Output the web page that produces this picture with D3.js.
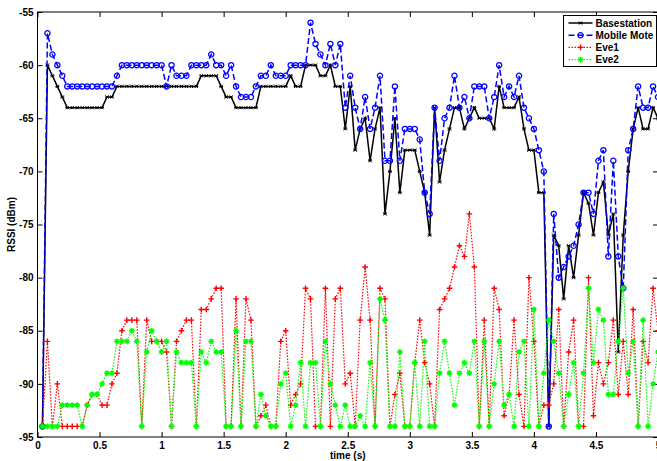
<!DOCTYPE html>
<html>
<head>
<meta charset="utf-8">
<script src="https://cdn.jsdelivr.net/npm/d3@7"></script>
<style>
  body { margin: 0; background: #fff; }
  text { font-family: "Liberation Sans", Arial, sans-serif; font-weight: bold; }
</style>
</head>
<body>
<div class="chartwrap"></div>
<script>
var width = 657, height = 461;
var margin = {top: 12, left: 37.5, right: 658, bottom: 437};

// sample spacing (s), samples start at one step
var sampleStep = 0.04;

var seriesNames = ["Basestation", "Mobile Mote", "Eve1", "Eve2"];

var basestation = [
  -94,-60,-61,-62,-63,-64,-64,-64,-64,-64,
  -64,-64,-64,-63,-63,-62,-62,-62,-62,-62,
  -62,-62,-62,-62,-62,-62,-62,-62,-62,-62,
  -62,-62,-61,-61,-61,-61,-62,-63,-63,-64,
  -64,-64,-64,-64,-62,-62,-62,-62,-62,-62,
  -61,-62,-62,-60,-60,-60,-61,-61,-60,-62,
  -62,-66,-62,-68,-66,-65,-69,-66,-64,-74,
  -70,-65,-72,-68,-68,-68,-70,-72,-76,-64,
  -71,-68,-66,-64,-64,-66,-65,-64,-65,-65,
  -65,-66,-62,-64,-64,-64,-63,-66,-68,-68,
  -72,-72,-94,-76,-77,-82,-77,-80,-76,-72,
  -73,-76,-72,-71,-76,-74,-87,-76,-70,-66,
  -64,-66,-66,-64,-65];

var mobileMote = [
  -94,-57,-59,-60,-61,-62,-62,-62,-62,-62,
  -62,-62,-62,-62,-62,-61,-60,-60,-60,-60,
  -60,-60,-60,-60,-60,-62,-60,-61,-61,-61,
  -60,-60,-60,-60,-59,-60,-60,-61,-60,-62,
  -63,-63,-63,-62,-61,-61,-60,-61,-61,-61,
  -60,-60,-60,-60,-56,-58,-59,-60,-58,-60,
  -58,-64,-61,-64,-66,-63,-66,-64,-61,-69,
  -69,-62,-69,-66,-66,-66,-67,-72,-74,-64,
  -69,-65,-64,-61,-64,-63,-65,-62,-62,-62,
  -65,-63,-60,-63,-62,-63,-61,-64,-65,-66,
  -68,-70,-94,-74,-80,-79,-78,-77,-75,-72,
  -72,-74,-69,-68,-78,-69,-78,-81,-68,-66,
  -62,-64,-64,-62,-63];

var eve1 = [
  -94,-86,-94,-90,-94,-94,-94,-94,-94,-92,
  -91,-91,-92,-92,-90,-89,-85,-84,-84,-84,
  -94,-84,-86,-86,-86,-87,-94,-86,-85,-84,
  -84,-94,-83,-83,-82,-81,-81,-94,-94,-82,
  -94,-82,-84,-94,-93,-92,-94,-94,-86,-85,
  -92,-91,-90,-81,-82,-94,-94,-81,-94,-82,
  -81,-90,-89,-94,-84,-79,-84,-94,-81,-82,
  -94,-91,-89,-94,-94,-88,-84,-88,-90,-94,
  -83,-82,-81,-79,-77,-78,-74,-79,-94,-84,
  -94,-81,-83,-93,-91,-84,-91,-94,-80,-86,
  -94,-92,-92,-90,-83,-94,-87,-84,-94,-94,
  -80,-93,-88,-90,-88,-84,-91,-86,-91,-83,
  -94,-86,-88,-81,-85];

var eve2 = [
  -94,-94,-94,-94,-92,-92,-92,-92,-94,-92,
  -91,-91,-90,-89,-89,-86,-86,-86,-85,-86,
  -94,-87,-85,-86,-87,-86,-94,-87,-88,-88,
  -88,-94,-87,-88,-86,-87,-87,-94,-94,-85,
  -94,-86,-86,-94,-91,-93,-94,-94,-90,-89,
  -94,-92,-88,-94,-88,-88,-94,-86,-90,-92,
  -94,-92,-94,-94,-93,-94,-88,-94,-82,-84,
  -94,-94,-87,-94,-94,-88,-94,-86,-94,-94,
  -89,-86,-89,-92,-89,-88,-89,-86,-94,-86,
  -94,-90,-86,-92,-91,-94,-87,-86,-94,-83,
  -94,-89,-84,-86,-89,-94,-91,-88,-94,-89,
  -81,-88,-83,-84,-91,-91,-86,-81,-89,-86,
  -94,-84,-94,-90,-87];

var xTicks = [0, 0.5, 1, 1.5, 2, 2.5, 3, 3.5, 4, 4.5, 5];
var yTicks = [-95, -90, -85, -80, -75, -70, -65, -60, -55];

var svg = d3.select(".chartwrap").append("svg")
    .attr("width", width)
    .attr("height", height);

svg.append("rect")
    .attr("width", width)
    .attr("height", height)
    .attr("fill", "#fff");

var x = d3.scaleLinear().domain([0, 5]).range([margin.left, margin.right]);
var y = d3.scaleLinear().domain([-95, -55]).range([margin.bottom, margin.top]);

function toPoints(vals) {
    return vals.map(function(v, i) { return {t: (i + 1) * sampleStep, v: v}; });
}

// axes, matlab style: ticks inside on all four sides
function styleAxis(g) {
    g.select(".domain").remove();
    g.selectAll(".tick line").attr("stroke", "#000").attr("stroke-width", 1);
    g.selectAll(".tick text").attr("fill", "#000").style("font-size", "10px");
}

svg.append("g")
    .attr("transform", "translate(0," + margin.bottom + ")")
    .call(d3.axisBottom(x).tickValues(xTicks).tickSizeInner(-5).tickSizeOuter(0).tickPadding(5)
        .tickFormat(d3.format("")))
    .call(styleAxis);

svg.append("g")
    .attr("transform", "translate(0," + margin.top + ")")
    .call(d3.axisTop(x).tickValues(xTicks).tickSizeInner(-5).tickSizeOuter(0).tickFormat(""))
    .call(styleAxis);

svg.append("g")
    .attr("transform", "translate(" + margin.left + ",0)")
    .call(d3.axisLeft(y).tickValues(yTicks).tickSizeInner(-5).tickSizeOuter(0).tickPadding(4))
    .call(styleAxis);

svg.append("g")
    .attr("transform", "translate(" + margin.right + ",0)")
    .call(d3.axisRight(y).tickValues(yTicks).tickSizeInner(-5).tickSizeOuter(0).tickFormat(""))
    .call(styleAxis);

svg.selectAll("text").filter(function() { return this.textContent.charAt(0) == "\u2212"; })
    .text(function() { return "-" + this.textContent.slice(1); });

svg.append("rect")
    .attr("x", margin.left)
    .attr("y", margin.top)
    .attr("width", margin.right - margin.left)
    .attr("height", margin.bottom - margin.top)
    .attr("fill", "none")
    .attr("stroke", "#000")
    .attr("stroke-width", 1);

var line = d3.line()
    .x(function(d) { return x(d.t); })
    .y(function(d) { return y(d.v); });

var styles = [
    {data: basestation, color: "#000000", dash: null, width: 1.5, marker: "x"},
    {data: mobileMote, color: "#0000ff", dash: "6,3", width: 1.5, marker: "o"},
    {data: eve1, color: "#ff0000", dash: "1.5,1.5", width: 1.2, marker: "+"},
    {data: eve2, color: "#00ff00", dash: "1.5,1.5", width: 1.2, marker: "*"}
];

function drawMarker(g, m, color) {
    if (m == "o") {
        g.append("circle").attr("r", 2.6).attr("fill", "none")
            .attr("stroke", color).attr("stroke-width", 1.3);
    } else if (m == "+") {
        g.append("path").attr("d", "M-2.8,0H2.8M0,-2.8V2.8")
            .attr("stroke", color).attr("stroke-width", 1.4);
    } else if (m == "x") {
        g.append("path").attr("d", "M-1.6,-1.6L1.6,1.6M-1.6,1.6L1.6,-1.6M-2,0H2")
            .attr("stroke", color).attr("stroke-width", 1);
    } else {
        g.append("circle").attr("r", 2.4).attr("fill", color);
        g.append("path").attr("d", "M-3,0H3M0,-3V3M-2.1,-2.1L2.1,2.1M-2.1,2.1L2.1,-2.1")
            .attr("stroke", color).attr("stroke-width", 1);
    }
}

var plotg = svg.append("g");

styles.forEach(function(s) {
    var pts = toPoints(s.data);
    plotg.append("path")
        .datum(pts)
        .attr("fill", "none")
        .attr("stroke", s.color)
        .attr("stroke-width", s.width)
        .attr("stroke-dasharray", s.dash)
        .attr("d", line);
    plotg.selectAll(null)
        .data(pts)
        .enter().append("g")
        .attr("transform", function(d) { return "translate(" + x(d.t) + "," + y(d.v) + ")"; })
        .each(function() { drawMarker(d3.select(this), s.marker, s.color); });
});

// labels
svg.append("text")
    .attr("x", (margin.left + margin.right) / 2)
    .attr("y", 459)
    .style("text-anchor", "middle")
    .style("font-size", "10px")
    .text("time (s)");

svg.append("text")
    .attr("transform", "translate(14.5," + ((margin.top + margin.bottom) / 2) + ") rotate(-90)")
    .style("text-anchor", "middle")
    .style("font-size", "10px")
    .text("RSSI (dBm)");

// legend
var legend = svg.append("g").attr("transform", "translate(563.5,15.5)");
legend.append("rect")
    .attr("width", 93)
    .attr("height", 51)
    .attr("fill", "#fff")
    .attr("stroke", "#000")
    .attr("stroke-width", 1);

var items = legend.selectAll(".legend")
    .data(styles)
    .enter().append("g")
    .attr("class", "legend")
    .attr("transform", function(d, i) { return "translate(0," + (7.5 + i * 12.2) + ")"; });

items.append("line")
    .attr("x1", 5).attr("x2", 29)
    .attr("stroke", function(d) { return d.color; })
    .attr("stroke-width", function(d) { return d.width; })
    .attr("stroke-dasharray", function(d) { return d.dash; });

items.append("g")
    .attr("transform", "translate(17,0)")
    .each(function(d) { drawMarker(d3.select(this), d.marker, d.color); });

items.append("text")
    .attr("x", 32)
    .attr("dy", "0.35em")
    .style("font-size", "10px")
    .text(function(d, i) { return seriesNames[i]; });
</script>
</body>
</html>
